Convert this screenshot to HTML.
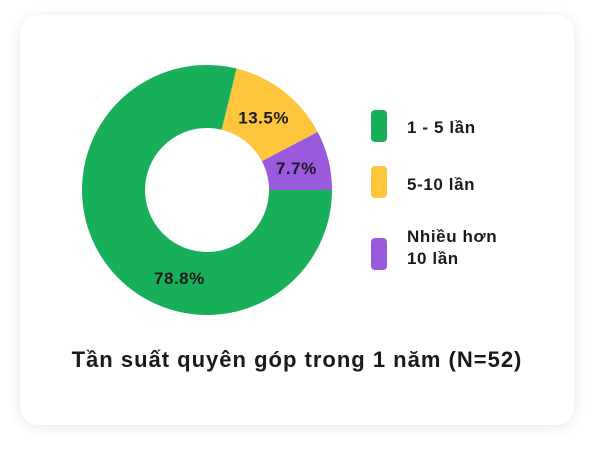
<!DOCTYPE html>
<html><head><meta charset="utf-8"><style>
body{margin:0;width:594px;height:450px;background:#fff;font-family:"Liberation Sans",sans-serif;position:relative;overflow:hidden}
.card{position:absolute;left:20px;top:15px;width:554px;height:410px;background:#fff;border-radius:18px;box-shadow:0 2px 14px rgba(0,0,0,0.10)}
.sw{position:absolute;left:371px;width:16px;height:32px;border-radius:4px}
.lt{position:absolute;left:407px;font-size:17px;font-weight:bold;letter-spacing:0.6px;color:#1a1a1a;line-height:22px}
.title{position:absolute;left:0;width:594px;top:347px;text-align:center;font-size:22px;font-weight:bold;letter-spacing:1px;color:#1a1a1a}
</style></head><body>
<div class="card"></div>
<svg id="chart" width="594" height="450" style="position:absolute;left:0;top:0"></svg>
<div class="sw" style="top:110px;background:#18AF5B"></div>
<div class="lt" style="top:117px">1 - 5 lần</div>
<div class="sw" style="top:166px;background:#FFC53D"></div>
<div class="lt" style="top:174px">5-10 lần</div>
<div class="sw" style="top:238px;background:#9B59DD"></div>
<div class="lt" style="top:226px">Nhiều hơn<br>10 lần</div>
<div class="title">Tần suất quyên góp trong 1 năm (N=52)</div>
<script>
const categories=["Nhiều hơn 10 lần","5-10 lần","1 - 5 lần"];
const values=[7.7,13.5,78.8];
const colors=["#9B59DD","#FFC53D","#18AF5B"];
const labels=["7.7%","13.5%","78.8%"];
const svg=document.getElementById('chart');
const cx=207,cy=190,R=125,r=62,LR=92,NS="http://www.w3.org/2000/svg";
const total=values.reduce((a,b)=>a+b,0);
let a0=0;
function pt(rad,a){return [cx+rad*Math.cos(a),cy-rad*Math.sin(a)];}
values.forEach((v,i)=>{
  const a1=a0+v/total*2*Math.PI;
  const large=(a1-a0)>Math.PI?1:0;
  const p1=pt(R,a0),p2=pt(R,a1),p3=pt(r,a1),p4=pt(r,a0);
  const p=document.createElementNS(NS,'path');
  p.setAttribute('d',`M${p1[0]},${p1[1]} A${R},${R} 0 ${large} 0 ${p2[0]},${p2[1]} L${p3[0]},${p3[1]} A${r},${r} 0 ${large} 1 ${p4[0]},${p4[1]}Z`);
  p.setAttribute('fill',colors[i]);
  
  
  svg.appendChild(p);
  let am=(a0+a1)/2;
  if(a1-a0>Math.PI) am+=0.6;
  const lp=pt(LR,am);
  const t=document.createElementNS(NS,'text');
  t.setAttribute('x',lp[0]);t.setAttribute('y',lp[1]+6);
  t.setAttribute('text-anchor','middle');t.setAttribute('font-size','17');
  t.setAttribute('font-weight','bold');t.setAttribute('letter-spacing','0.5');
  t.setAttribute('fill','#1a1a1a');t.setAttribute('font-family','Liberation Sans, sans-serif');
  t.textContent=labels[i];
  
  
  svg.appendChild(t);
  a0=a1;
});
</script>
</body></html>
